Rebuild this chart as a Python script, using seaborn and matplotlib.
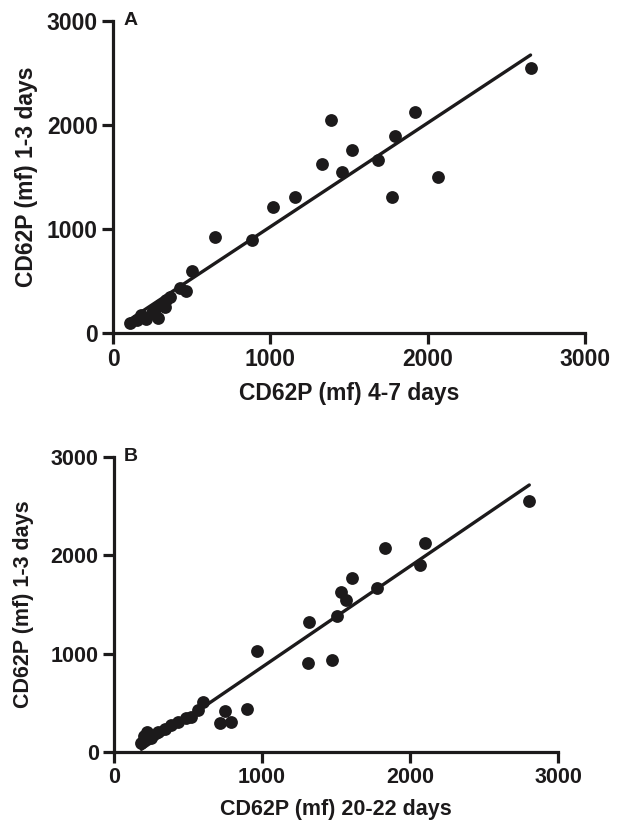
import numpy as np
import pandas as pd
import matplotlib
matplotlib.use("Agg")
import matplotlib.pyplot as plt
import seaborn as sns

# Panel A: 4-7 days (x) vs 1-3 days (y)
a_x = [106, 150, 180, 212, 245, 270, 286, 300, 329, 340, 360, 424, 467, 505,
       648, 883, 1015, 1159, 1327, 1387, 1454, 1520, 1684, 1772, 1790, 1921, 2068, 2654]
a_y = [93, 125, 173, 132, 189, 230, 140, 270, 253, 317, 349, 430, 407, 599,
       920, 894, 1208, 1311, 1622, 2048, 1545, 1760, 1663, 1311, 1894, 2125, 1503, 2548]

# Panel B: 20-22 days (x) vs 1-3 days (y)
b_x = [185, 205, 220, 250, 297, 343, 388, 432, 489, 523, 568, 601, 714, 748, 793,
       901, 964, 1313, 1315, 1471, 1505, 1534, 1568, 1610, 1775, 1831, 2068, 2104, 2806]
b_y = [95, 160, 207, 140, 207, 231, 275, 308, 343, 359, 427, 512, 292, 420, 308,
       433, 1025, 903, 1326, 937, 1387, 1631, 1546, 1770, 1668, 2071, 1901, 2128, 2551]

ticks = [0, 1000, 2000, 3000]
tick_labels = ["0", "1000", "2000", "3000"]

sns.set_style("ticks")
plt.rcParams["font.family"] = ["Liberation Sans", "DejaVu Sans"]
plt.rcParams["font.weight"] = "bold"

ink = "#1c1a1b"
fig = plt.figure(figsize=(6.2, 8.25), dpi=100)

panels = [
    dict(rect=[113/620, 1-333/825, 472/620, 312/825], x=a_x, y=a_y,
         xlabel="CD62P (mf) 4-7 days", ylabel="CD62P (mf) 1-3 days", letter="A",
         fs=16.5, ylpad=6),
    dict(rect=[114/620, 1-752/825, 444/620, 295/825], x=b_x, y=b_y,
         xlabel="CD62P (mf) 20-22 days", ylabel="CD62P (mf) 1-3 days", letter="B",
         fs=15.5, ylpad=12),
]

for p in panels:
    ax = fig.add_axes(p["rect"])
    df = pd.DataFrame({"x": p["x"], "y": p["y"]})
    sns.regplot(data=df, x="x", y="y", ax=ax, ci=None, truncate=True,
                scatter_kws=dict(s=85, color=ink, alpha=1, linewidths=0, clip_on=False, zorder=3),
                line_kws=dict(color=ink, lw=2.4, zorder=4))
    ax.set_xlim(0, 3000)
    ax.set_ylim(0, 3000)
    ax.set_xticks(ticks)
    ax.set_xticklabels(tick_labels)
    ax.set_yticks(ticks)
    ax.set_yticklabels(tick_labels)
    for side in ("top", "right"):
        ax.spines[side].set_visible(False)
    for side in ("left", "bottom"):
        ax.spines[side].set_linewidth(2.3)
        ax.spines[side].set_color(ink)
    ax.tick_params(axis="both", direction="out", length=8, width=2.3, color=ink,
                   labelsize=p["fs"], pad=3, labelcolor=ink)
    for lab in ax.get_xticklabels() + ax.get_yticklabels():
        lab.set_fontweight("bold")
    ax.set_xlabel(p["xlabel"], fontsize=p["fs"], fontweight="bold", color=ink, labelpad=8)
    ax.set_ylabel(p["ylabel"], fontsize=p["fs"], fontweight="bold", color=ink, labelpad=p["ylpad"])
    ax.text(0.022, 1.03, p["letter"], transform=ax.transAxes, ha="left", va="top",
            fontsize=14, fontweight="bold", color=ink)

fig.savefig("out.png", dpi=100)
